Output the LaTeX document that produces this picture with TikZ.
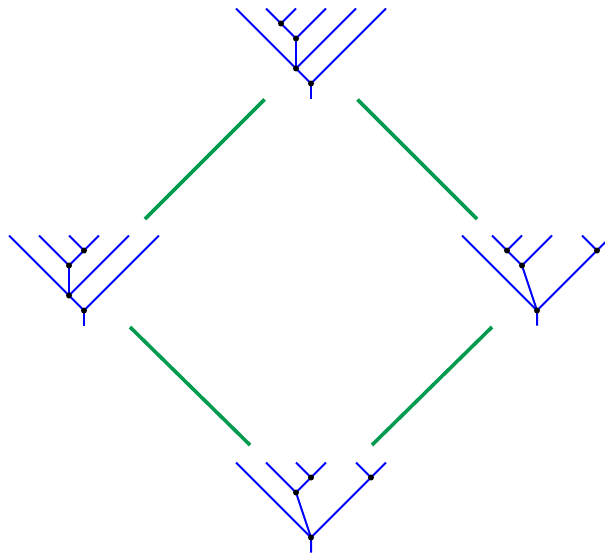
\documentclass[tikz,border=0pt]{standalone}
\definecolor{edgegreen}{RGB}{0,155,78}
\tikzset{
  treeedge/.style={draw=blue, line width=2pt},
  vtx/.style={circle, fill=black, inner sep=0pt, minimum size=6pt},
  link/.style={draw=edgegreen, line width=3.6pt}
}
\begin{document}
\begin{tikzpicture}[x=1pt,y=-1pt]
\clip (0,0) rectangle (605,554);
% ---------- top tree ----------
\foreach \i/\x in {1/236,2/266,3/296,4/326,5/356,6/386} \coordinate (T\i) at (\x,8.5);
\coordinate (Tr) at (311,98.5);
\coordinate (Ta) at (281,23.5);
\coordinate (Tb) at (296,38.5);
\coordinate (Tc) at (296,68.5);
\coordinate (Td) at (311,83.5);
\draw[treeedge] (T2) -- (Ta) -- (T3);
\draw[treeedge] (Ta) -- (Tb) -- (T4);
\draw[treeedge] (Tb) -- (Tc);
\draw[treeedge] (T1) -- (Tc) -- (T5);
\draw[treeedge] (Tc) -- (Td) -- (T6);
\draw[treeedge] (Td) -- (Tr);
\foreach \n in {Ta,Tb,Tc,Td} \node[vtx] (v\n) at (\n) {};
% ---------- left tree ----------
\foreach \i/\x in {1/9,2/39,3/69,4/99,5/129,6/159} \coordinate (L\i) at (\x,235.5);
\coordinate (Lr) at (84,325.5);
\coordinate (La) at (84,250.5);
\coordinate (Lb) at (69,265.5);
\coordinate (Lc) at (69,295.5);
\coordinate (Ld) at (84,310.5);
\draw[treeedge] (L3) -- (La) -- (L4);
\draw[treeedge] (L2) -- (Lb) -- (La);
\draw[treeedge] (Lb) -- (Lc);
\draw[treeedge] (L1) -- (Lc) -- (L5);
\draw[treeedge] (Lc) -- (Ld) -- (L6);
\draw[treeedge] (Ld) -- (Lr);
\foreach \n in {La,Lb,Lc,Ld} \node[vtx] (v\n) at (\n) {};
% ---------- right tree ----------
\foreach \i/\x in {1/462,2/492,3/522,4/552,5/582,6/612} \coordinate (R\i) at (\x,235.5);
\coordinate (Rs) at (537,325.5);
\coordinate (Ra) at (507,250.5);
\coordinate (Rb) at (522,265.5);
\coordinate (Re) at (597,250.5);
\coordinate (Rr) at (537,310.5);
\draw[treeedge] (R2) -- (Ra) -- (R3);
\draw[treeedge] (Ra) -- (Rb) -- (R4);
\draw[treeedge] (R5) -- (Re) -- (R6);
\draw[treeedge] (R1) -- (Rr) -- (Re);
\draw[treeedge] (Rb) -- (Rr) -- (Rs);
\foreach \n in {Ra,Rb,Re,Rr} \node[vtx] (v\n) at (\n) {};
% ---------- bottom tree ----------
\foreach \i/\x in {1/236,2/266,3/296,4/326,5/356,6/386} \coordinate (B\i) at (\x,462.5);
\coordinate (Bs) at (311,552.5);
\coordinate (Ba) at (311,477.5);
\coordinate (Bb) at (296,492.5);
\coordinate (Be) at (371,477.5);
\coordinate (Br) at (311,537.5);
\draw[treeedge] (B3) -- (Ba) -- (B4);
\draw[treeedge] (B2) -- (Bb) -- (Ba);
\draw[treeedge] (B5) -- (Be) -- (B6);
\draw[treeedge] (B1) -- (Br) -- (Be);
\draw[treeedge] (Bb) -- (Br) -- (Bs);
\foreach \n in {Ba,Bb,Be,Br} \node[vtx] (v\n) at (\n) {};
% ---------- green links ----------
\coordinate (g1a) at (264.5,99.5);  \coordinate (g1b) at (145,219);
\coordinate (g2a) at (357.5,99.5);  \coordinate (g2b) at (477,219);
\coordinate (g3a) at (130,327);     \coordinate (g3b) at (250,445);
\coordinate (g4a) at (492,327);     \coordinate (g4b) at (372,445);
\draw[link] (g1a) -- (g1b);
\draw[link] (g2a) -- (g2b);
\draw[link] (g3a) -- (g3b);
\draw[link] (g4a) -- (g4b);
\end{tikzpicture}
\end{document}
